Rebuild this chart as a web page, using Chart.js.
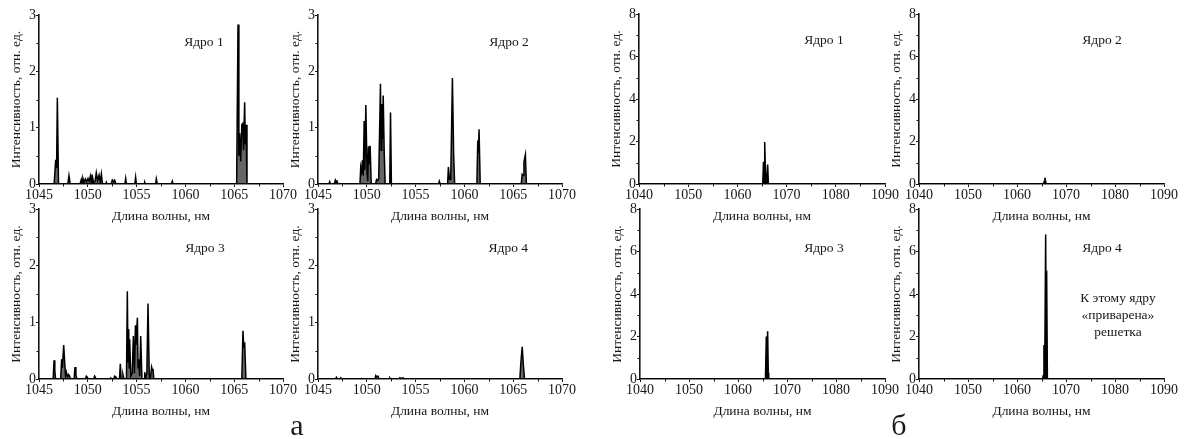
<!DOCTYPE html>
<html><head><meta charset="utf-8">
<script src="https://cdn.jsdelivr.net/npm/chart.js@4.4.1/dist/chart.umd.min.js"></script>
<style>
html,body{margin:0;padding:0;background:#fff;}
#root{position:relative;width:1189px;height:439px;overflow:hidden;background:#fff;}
.pane{position:absolute;}
.pane canvas{display:block;}
.big{position:absolute;font-family:"Liberation Serif","Times New Roman",serif;font-size:30px;line-height:30px;color:#1a1a1a;transform:translateX(-50%);}
</style></head><body><div id="root"></div>
<script>
// ---- data: [wavelength (nm), intensity (a.u.)] ----
const spectrumA1 = [
[1045.00,0],[1046.55,0],[1046.71,0.43],[1046.80,0.28],[1046.88,1.53],[1047.00,0],
[1047.95,0],[1048.07,0.15],[1048.20,0],
[1049.20,0],[1049.34,0.08],[1049.42,0.02],[1049.50,0.10],[1049.62,0.03],[1049.75,0.09],[1049.88,0.04],[1050.02,0.10],[1050.14,0.05],[1050.26,0.14],[1050.35,0.03],[1050.43,0.17],[1050.60,0.02],[1050.75,0.05],[1050.87,0.20],[1051.00,0.06],[1051.15,0.16],[1051.27,0.04],[1051.39,0.18],[1051.50,0],
[1051.85,0],[1051.90,0.03],[1051.97,0],
[1052.40,0],[1052.51,0.07],[1052.63,0.04],[1052.75,0.07],[1052.88,0],
[1053.80,0],[1053.88,0.10],[1053.96,0],
[1054.82,0],[1054.90,0.12],[1054.98,0],
[1055.76,0],[1055.83,0.03],[1055.90,0],
[1056.95,0],[1057.02,0.09],[1057.10,0.02],[1057.20,0],
[1058.58,0],[1058.66,0.05],[1058.74,0],
[1065.25,0],[1065.39,2.83],[1065.48,0.50],[1065.56,0.90],[1065.66,0.40],[1065.78,1.05],[1065.86,1.07],[1065.96,0.60],[1066.07,1.45],[1066.14,0.70],[1066.22,1.05],[1066.31,0],
[1070.00,0]
];
const spectrumA2 = [
[1045.00,0],[1046.12,0],[1046.20,0.04],[1046.28,0],
[1046.68,0],[1046.78,0.07],[1046.88,0.03],[1046.95,0.05],[1047.05,0],
[1049.30,0],[1049.38,0.30],[1049.47,0.22],[1049.55,0.42],[1049.64,0.15],[1049.73,1.12],[1049.80,0.25],[1049.90,1.40],[1050.03,0.20],[1050.10,0.05],[1050.17,0.67],[1050.27,0.35],[1050.34,0.68],[1050.45,0],
[1050.90,0],[1051.00,0.08],[1051.12,0.06],[1051.22,0.09],[1051.40,1.78],[1051.47,0.60],[1051.54,1.42],[1051.61,0.80],[1051.68,1.57],[1051.78,0.60],[1051.88,0],
[1052.35,0],[1052.43,1.27],[1052.52,0],
[1057.35,0],[1057.43,0.05],[1057.51,0],
[1058.28,0],[1058.36,0.30],[1058.48,0.08],[1058.60,0.08],[1058.77,1.88],[1058.90,0.52],[1059.00,0],
[1061.28,0],[1061.37,0.77],[1061.44,0.55],[1061.50,0.97],[1061.62,0],
[1065.82,0],[1065.92,0.17],[1066.02,0.15],[1066.10,0.39],[1066.25,0.52],[1066.35,0],
[1070.00,0]
];
const spectrumA3 = [
[1045.00,0],[1046.45,0],[1046.54,0.33],[1046.62,0.15],[1046.70,0],
[1047.22,0],[1047.32,0.35],[1047.40,0.20],[1047.53,0.60],[1047.63,0.30],[1047.72,0.05],[1047.80,0.12],[1047.92,0.04],[1048.04,0.08],[1048.14,0.05],[1048.22,0],
[1048.60,0],[1048.69,0.21],[1048.78,0.07],[1048.88,0],
[1049.75,0],[1049.85,0.05],[1049.95,0.03],[1050.05,0],
[1050.60,0],[1050.70,0.05],[1050.80,0.02],[1050.90,0],
[1052.25,0],[1052.34,0.02],[1052.45,0],[1052.65,0],[1052.75,0.05],[1052.90,0.03],[1053.00,0],
[1053.25,0],[1053.33,0.27],[1053.42,0],[1053.52,0],[1053.60,0.08],[1053.70,0],
[1053.96,0],[1054.05,1.55],[1054.12,0.30],[1054.19,0.88],[1054.24,0.20],[1054.29,0.70],[1054.40,0.05],[1054.55,0.10],[1054.67,0.76],[1054.78,0.10],[1054.88,0.95],[1054.94,0.60],[1055.08,1.08],[1055.15,0.20],[1055.21,0.35],[1055.32,0.05],[1055.42,0.76],[1055.55,0],
[1055.76,0],[1055.83,0.12],[1055.92,0],[1056.05,0.10],[1056.17,1.33],[1056.30,0.05],[1056.40,0],[1056.54,0.21],[1056.62,0.15],[1056.68,0.18],[1056.76,0],
[1065.78,0],[1065.90,0.85],[1065.98,0.55],[1066.07,0.65],[1066.20,0],
[1070.00,0]
];
const spectrumA4 = [
[1045.00,0],[1046.80,0],[1046.88,0.03],[1046.96,0.01],[1047.10,0],[1047.25,0],[1047.33,0.02],[1047.42,0],
[1049.38,0],[1049.45,0.01],[1049.52,0],
[1050.84,0],[1050.92,0.06],[1051.02,0.04],[1051.16,0.05],[1051.25,0],
[1052.28,0],[1052.36,0.02],[1052.44,0],
[1053.32,0],[1053.39,0.02],[1053.55,0.01],[1053.73,0.02],[1053.82,0],
[1065.68,0],[1065.79,0.30],[1065.92,0.57],[1066.06,0.20],[1066.16,0],
[1070.00,0]
];
const spectrumB1 = [[1040,0],[1065.15,0],[1065.30,1.05],[1065.42,0.40],[1065.55,1.98],[1065.72,0.40],[1065.90,0.45],[1066.00,0.30],[1066.15,0.92],[1066.30,0],[1090,0]];
const spectrumB2 = [[1040,0],[1065.40,0],[1065.55,0.12],[1065.70,0.30],[1065.85,0.10],[1066.00,0],[1090,0]];
const spectrumB3 = [[1040,0],[1065.60,0],[1065.78,2.00],[1065.90,1.20],[1066.05,2.25],[1066.18,0.30],[1066.28,0],[1090,0]];
const spectrumB4 = [[1040,0],[1065.20,0],[1065.35,0.15],[1065.50,1.60],[1065.68,1.00],[1065.85,6.80],[1065.95,2.00],[1066.05,5.10],[1066.20,0],[1090,0]];

// ---- tick labels ----
const xTicksA = [1045,1050,1055,1060,1065,1070];
const yTicksA = [0,1,2,3];
const xTicksB = [1040,1050,1060,1070,1080,1090];
const yTicksB = [0,2,4,6,8];

// ---- texts ----
const coreNames = ['Ядро 1','Ядро 2','Ядро 3','Ядро 4'];
const gratingNote = ['К этому ядру','«приварена»','решетка'];
const xTitle = 'Длина волны, нм';
const yTitle = 'Интенсивность, отн. ед.';
const groupLabels = ['а','б'];

// ---- layout (plot-area rectangles in page pixels) ----
const FONT = '"Liberation Serif","Times New Roman",serif';
const INK = '#161616';
const panels = [
  {rect:{L:39,R:283,T:15,B:184},  data:spectrumA1, xt:xTicksA, yt:yTicksA, notes:[{t:coreNames[0],fx:0.676,fy:0.16}], solid:false},
  {rect:{L:318,R:562,T:15,B:184}, data:spectrumA2, xt:xTicksA, yt:yTicksA, notes:[{t:coreNames[1],fx:0.783,fy:0.16}], solid:false},
  {rect:{L:39,R:283,T:209,B:379}, data:spectrumA3, xt:xTicksA, yt:yTicksA, notes:[{t:coreNames[2],fx:0.68,fy:0.23}], solid:false},
  {rect:{L:318,R:562,T:209,B:379},data:spectrumA4, xt:xTicksA, yt:yTicksA, notes:[{t:coreNames[3],fx:0.78,fy:0.23}], solid:false},
  {rect:{L:639,R:885,T:14,B:184}, data:spectrumB1, xt:xTicksB, yt:yTicksB, notes:[{t:coreNames[0],fx:0.752,fy:0.153}], solid:true},
  {rect:{L:919,R:1164,T:14,B:184},data:spectrumB2, xt:xTicksB, yt:yTicksB, notes:[{t:coreNames[1],fx:0.747,fy:0.153}], solid:true},
  {rect:{L:640,R:885,T:209,B:379},data:spectrumB3, xt:xTicksB, yt:yTicksB, notes:[{t:coreNames[2],fx:0.751,fy:0.23}], solid:true},
  {rect:{L:919,R:1164,T:209,B:379},data:spectrumB4, xt:xTicksB, yt:yTicksB, notes:[{t:coreNames[3],fx:0.747,fy:0.23},{t:gratingNote[0],fx:0.812,fy:0.524},{t:gratingNote[1],fx:0.812,fy:0.624},{t:gratingNote[2],fx:0.812,fy:0.724}], solid:true}
];

const minorTicks = {
  id:'minorTicks',
  afterDraw(chart){
    const ctx = chart.ctx, xs = chart.scales.x, ys = chart.scales.y;
    ctx.save(); ctx.strokeStyle = INK; ctx.lineWidth = 1;
    const xt = xs.ticks, yt = ys.ticks;
    for (let i=0;i<xt.length-1;i++){
      const p = Math.round(xs.getPixelForValue((xt[i].value+xt[i+1].value)/2))+0.5;
      ctx.beginPath(); ctx.moveTo(p, xs.top); ctx.lineTo(p, xs.top+2.5); ctx.stroke();
    }
    for (let i=0;i<yt.length-1;i++){
      const p = Math.round(ys.getPixelForValue((yt[i].value+yt[i+1].value)/2))+0.5;
      ctx.beginPath(); ctx.moveTo(ys.right, p); ctx.lineTo(ys.right-2.5, p); ctx.stroke();
    }
    ctx.restore();
  }
};
const notesPlugin = {
  id:'notes',
  afterDraw(chart, args, opts){
    const a = chart.chartArea, ctx = chart.ctx;
    ctx.save(); ctx.fillStyle = INK; ctx.font = '13.5px ' + FONT;
    ctx.textAlign = 'center'; ctx.textBaseline = 'middle';
    (opts.items||[]).forEach(n => ctx.fillText(n.t, a.left + n.fx*(a.right-a.left), a.top + n.fy*(a.bottom-a.top)));
    ctx.restore();
  }
};

const root = document.getElementById('root');
const WY = 36, PT = 10, PR = 18, HX = 45;
panels.forEach(pn => {
  const r = pn.rect;
  const w = r.R - r.L + WY + PR, h = r.B - r.T + PT + HX;
  const div = document.createElement('div');
  div.className = 'pane';
  div.style.left = (r.L - WY) + 'px'; div.style.top = (r.T - PT) + 'px';
  div.style.width = w + 'px'; div.style.height = h + 'px';
  const cv = document.createElement('canvas');
  cv.width = w; cv.height = h; cv.style.width = w+'px'; cv.style.height = h+'px';
  div.appendChild(cv); root.appendChild(div);
  const tickFont = {family:FONT, size:14};
  new Chart(cv, {
    type:'line',
    data:{datasets:[{
      data: pn.data.map(p => ({x:p[0], y:p[1]})),
      borderColor:'#000', borderWidth:1.5,
      backgroundColor: pn.solid ? '#000' : 'rgba(0,0,0,0.6)',
      fill:'origin', pointRadius:0, tension:0, borderJoinStyle:'miter'
    }]},
    options:{
      responsive:false, animation:false,
      layout:{padding:{top:PT, right:PR, left:0, bottom:0}},
      plugins:{legend:{display:false}, tooltip:{enabled:false}, notes:{items:pn.notes}},
      scales:{
        x:{type:'linear', min:pn.xt[0], max:pn.xt[pn.xt.length-1],
           afterBuildTicks(s){ s.ticks = pn.xt.map(v => ({value:v})); },
           afterFit(s){ s.height = HX; },
           ticks:{font:tickFont, color:INK, padding:0, maxRotation:0, autoSkip:false, callback:v=>String(v)},
           grid:{drawOnChartArea:false, drawTicks:true, tickLength:3, color:INK, lineWidth:1},
           border:{display:true, color:INK, width:1.6},
           title:{display:true, text:xTitle, font:{family:FONT,size:13.5}, color:INK, padding:{top:0,bottom:4}}},
        y:{type:'linear', min:pn.yt[0], max:pn.yt[pn.yt.length-1],
           afterBuildTicks(s){ s.ticks = pn.yt.map(v => ({value:v})); },
           afterFit(s){ s.width = WY; },
           ticks:{font:tickFont, color:INK, padding:0, autoSkip:false, callback:v=>String(v)},
           grid:{drawOnChartArea:false, drawTicks:true, tickLength:3, color:INK, lineWidth:1},
           border:{display:true, color:INK, width:1.6},
           title:{display:true, text:yTitle, font:{family:FONT,size:13.5}, color:INK, padding:{top:5,bottom:0}}}
      }
    },
    plugins:[minorTicks, notesPlugin]
  });
});
// group letters
[[groupLabels[0],297],[groupLabels[1],899]].forEach(g => {
  const d = document.createElement('div');
  d.className = 'big'; d.textContent = g[0];
  d.style.left = g[1] + 'px'; d.style.top = '410px';
  root.appendChild(d);
});
</script></body></html>
